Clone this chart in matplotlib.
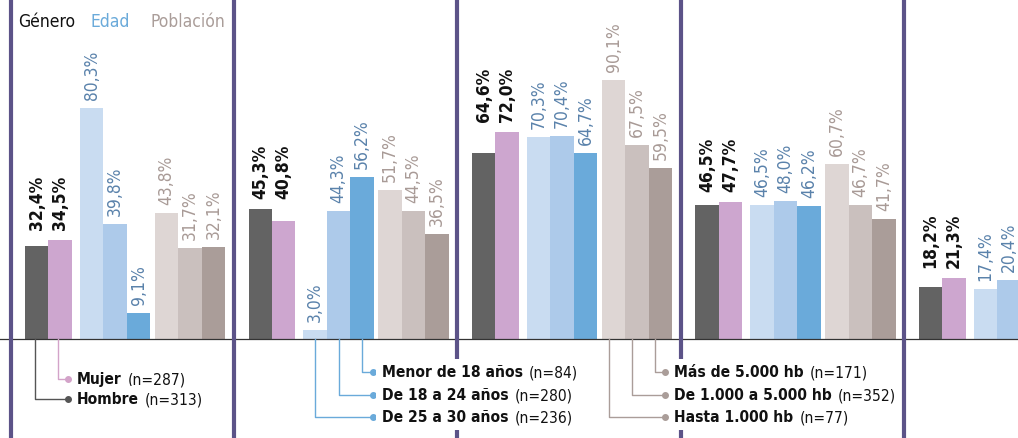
import matplotlib
matplotlib.use("Agg")
import matplotlib.pyplot as plt


# values per block (five blocks, the last one is cut by the right edge)
genero = [[32.4, 34.5], [45.3, 40.8], [64.6, 72.0], [46.5, 47.7], [18.2, 21.3]]
edad = [[80.3, 39.8, 9.1], [3.0, 44.3, 56.2], [70.3, 70.4, 64.7],
        [46.5, 48.0, 46.2], [17.4, 20.4]]
poblacion = [[43.8, 31.7, 32.1], [51.7, 44.5, 36.5], [90.1, 67.5, 59.5],
             [60.7, 46.7, 41.7], []]

genero_names = ["Hombre", "Mujer"]
genero_n = ["(n=313)", "(n=287)"]
edad_names = ["De 25 a 30 años", "De 18 a 24 años", "Menor de 18 años"]
edad_n = ["(n=236)", "(n=280)", "(n=84)"]
poblacion_names = ["Hasta 1.000 hb", "De 1.000 a 5.000 hb", "Más de 5.000 hb"]
poblacion_n = ["(n=77)", "(n=352)", "(n=171)"]

GENERO_COLORS = ["#636363", "#cda6cf"]
EDAD_COLORS = ["#c9dcf1", "#adcaea", "#6aaada"]
POB_COLORS = ["#ded6d4", "#cac0be", "#aa9d99"]
DIVIDER = "#5c5388"

W, H = 1018, 439
UNIT = 23.4          # px per bar
PX_PCT = 2.88        # px per percentage point
BASE = 340           # baseline, px from the top
PERIOD = 9.55
START = 1.07
FONT = dict(family="DejaVu Sans", fontstretch="condensed")


def dx(px):
    return px / UNIT


def dy(px):
    return px / PX_PCT


def main():
    fig = plt.figure(figsize=(W / 100, H / 100), dpi=100)
    ax = fig.add_axes([0, 0, 1, 1])
    ax.set_xlim(0, W / UNIT)
    ax.set_ylim(-(H - BASE) / PX_PCT, BASE / PX_PCT)
    ax.axis("off")

    offsets = {"g": [0, 1], "e": [2.35, 3.35, 4.35], "p": [5.55, 6.55, 7.55]}
    centers = []
    for g in range(len(genero)):
        s = START + g * PERIOD
        cg = {}
        sets = [("g", genero[g], GENERO_COLORS, "#111111", "bold"),
                ("e", edad[g], EDAD_COLORS, "#5a82ab", "medium"),
                ("p", poblacion[g], POB_COLORS, "#a89a96", "medium")]
        for key, vals, cols, tcol, weight in sets:
            xs = [s + o + 0.5 for o in offsets[key][:len(vals)]]
            cg[key] = xs
            ax.bar(xs, vals, width=1.0, color=cols[:len(vals)], zorder=2)
            for x, v in zip(xs, vals):
                if key == "g":
                    ytxt = max(vals) + dy(11)
                else:
                    ytxt = v + dy(9)
                ax.text(x, ytxt, f"{v:.1f}%".replace(".", ","), rotation=90,
                        ha="center", va="bottom", color=tcol, fontsize=12.5,
                        fontweight=weight, **FONT, zorder=3)
        centers.append(cg)
        ax.axvline(s - 0.62, color=DIVIDER, lw=3, zorder=4)

    ax.axhline(0, color="#333333", lw=0.9, zorder=3)

    # legends with connectors: (bar centers, names, n, row px, colours,
    # connector shift px, dot gap px)
    legends = [
        (centers[0]["g"], genero_names, genero_n, [400, 380],
         ["#555555", "#d3a3c9"], -2, 10),
        (centers[1]["e"], edad_names, edad_n, [418, 396, 373],
         ["#6aaada"] * 3, 0, 11),
        (centers[2]["p"], poblacion_names, poblacion_n, [418, 396, 373],
         ["#aa9d99"] * 3, -5, 10),
    ]
    for xs, names, ns, rows, cols, shift, gap in legends:
        xs = [x + dx(shift) for x in xs]
        xdot = xs[-1] + dx(gap)
        for x, name, n, row, col in zip(xs, names, ns, rows, cols):
            yr = -dy(row - BASE)
            ax.plot([x, x, xdot], [0, yr, yr], color=col, lw=1.0, zorder=5)
            ax.plot([xdot], [yr], "o", color=col, ms=4, zorder=5)
            # white boxes hide the dividers behind the legend text
            t = ax.text(xdot + dx(9), yr, name, ha="left", va="center",
                        fontsize=11.2, fontweight="bold", color="#111111",
                        **FONT, zorder=7,
                        bbox=dict(fc="white", ec="none", pad=4))
            ax.annotate(n, xy=(1, 0.5), xycoords=t, xytext=(4.2, 0),
                        textcoords="offset points", ha="left", va="center",
                        fontsize=11.2, color="#111111", **FONT, zorder=6,
                        bbox=dict(fc="white", ec="none", pad=2))

    fig.text(18 / W, 1 - 22 / H, "Género", color="#111111", fontsize=12.5,
             va="center", **FONT)
    fig.text(90 / W, 1 - 22 / H, "Edad", color="#6aaada", fontsize=12.5,
             va="center", **FONT)
    fig.text(150 / W, 1 - 22 / H, "Población", color="#aa9d99", fontsize=12.5,
             va="center", **FONT)

    fig.savefig("out.png", dpi=100)


if __name__ == "__main__":
    main()
